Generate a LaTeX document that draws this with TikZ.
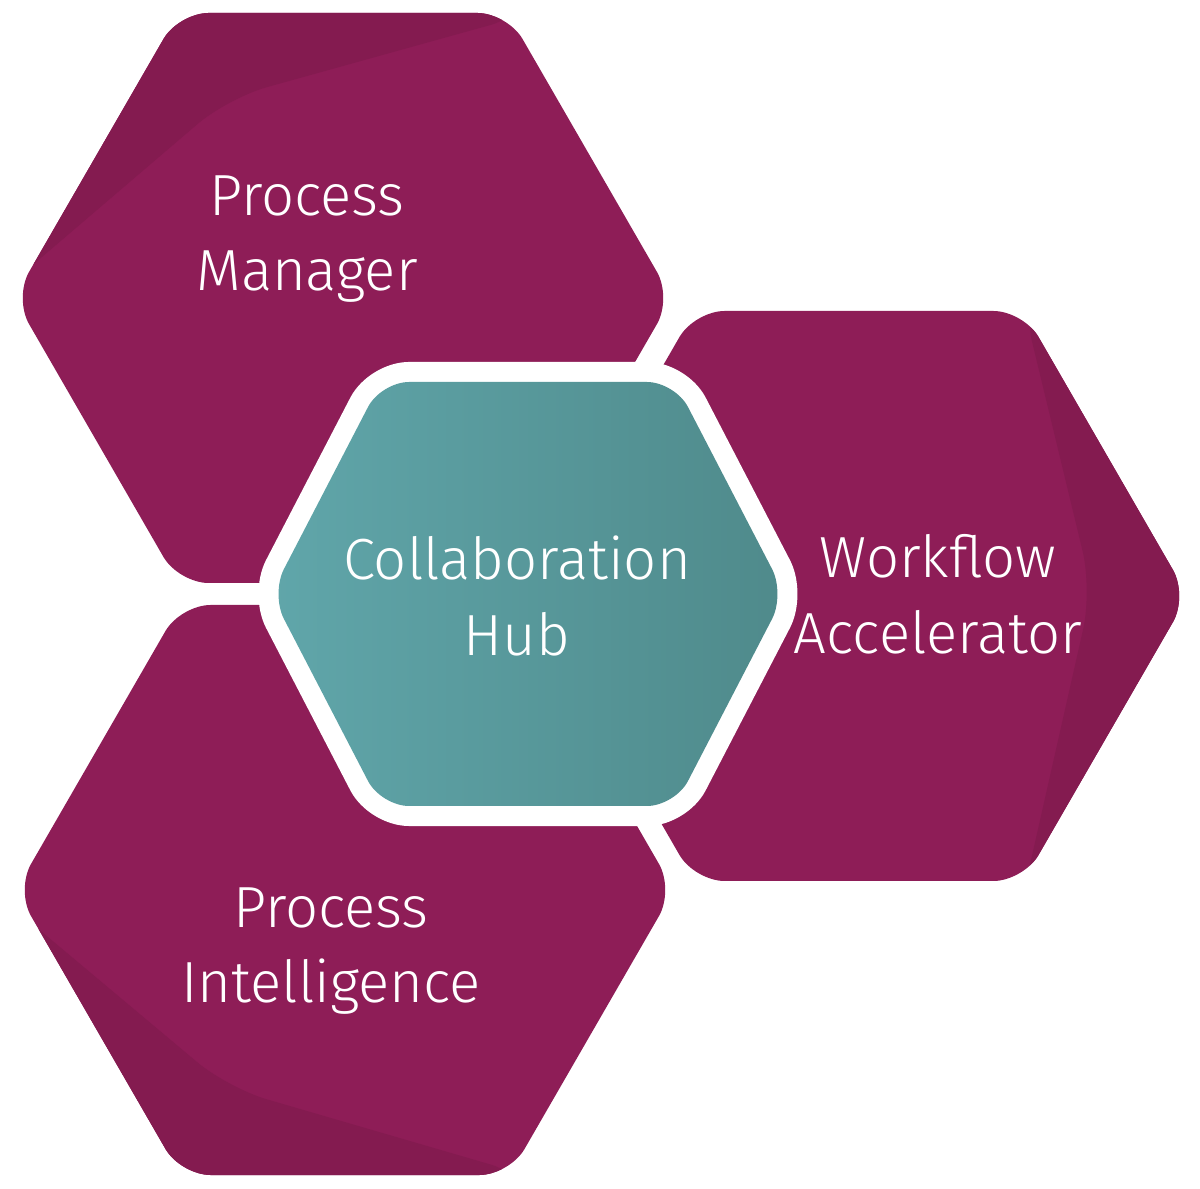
\documentclass[tikz,border=0pt]{standalone}
\usepackage{fontspec}
\setmainfont{Fira Sans Light}
\usepackage{tikz}
\usetikzlibrary{calc}

\definecolor{hexmagenta}{HTML}{8E1D57}
\definecolor{hexshadow}{HTML}{841B50}
\definecolor{hubleft}{HTML}{60A6AA}
\definecolor{hubright}{HTML}{4F8A8B}

\tikzset{
  hexcell/.style={fill=hexmagenta, rounded corners=3mm},
  hexshade/.style={fill=hexshadow, rounded corners=4mm},
  hubrim/.style={draw=white, line width=4mm, line join=round, rounded corners=2.8mm},
  hubcell/.style={left color=hubleft, right color=hubright, rounded corners=2.8mm},
  hexlabel/.style={text=white, align=center, inner sep=0pt,
    font=\fontsize{16.5}{21.5}\selectfont}
}

\begin{document}
\begin{tikzpicture}[x=0.01cm, y=-0.01cm]
\useasboundingbox (0,0) rectangle (1200,1189);

% Process Manager
\fill[hexcell] (14,298) -- (178.5,13) -- (507.5,13) -- (672,298) -- (507.5,583) -- (178.5,583) -- cycle;
\begin{scope}
\clip[rounded corners=3mm] (14,298) -- (178.5,13) -- (507.5,13) -- (672,298) -- (507.5,583) -- (178.5,583) -- cycle;
\fill[hexshade] (-20,310) -- (228,98) -- (530,14) -- (530,-20) -- (-20,-20) -- cycle;
\end{scope}

% Workflow Accelerator
\fill[hexcell] (530,596) -- (694.5,311) -- (1023.5,311) -- (1188,596) -- (1023.5,881) -- (694.5,881) -- cycle;
\begin{scope}
\clip[rounded corners=3mm] (530,596) -- (694.5,311) -- (1023.5,311) -- (1188,596) -- (1023.5,881) -- (694.5,881) -- cycle;
\fill[hexshade] (1022,300) -- (1092,590) -- (1022,900) -- (1220,900) -- (1220,300) -- cycle;
\end{scope}

% Process Intelligence
\fill[hexcell] (16,890) -- (180.5,605) -- (509.5,605) -- (674,890) -- (509.5,1175) -- (180.5,1175) -- cycle;
\begin{scope}
\clip[rounded corners=3mm] (16,890) -- (180.5,605) -- (509.5,605) -- (674,890) -- (509.5,1175) -- (180.5,1175) -- cycle;
\fill[hexshade] (-20,880) -- (228,1088) -- (530,1176) -- (530,1210) -- (-20,1210) -- cycle;
\end{scope}

% Collaboration Hub
\draw[hubrim] (271,594) -- (381,382) -- (675,382) -- (785,594) -- (675,806) -- (381,806) -- cycle;
\shade[hubcell] (271,594) -- (381,382) -- (675,382) -- (785,594) -- (675,806) -- (381,806) -- cycle;

\node[hexlabel] (manager) at (307,239) {Process\\Manager};
\node[hexlabel] (hub) at (517,596) {Collaboration\\Hub};
\node[hexlabel] (workflow) at (938,594) {Workflow\\Accelerator};
\node[hexlabel] (intel) at (331,951) {Process\\Intelligence};
\end{tikzpicture}
\end{document}
